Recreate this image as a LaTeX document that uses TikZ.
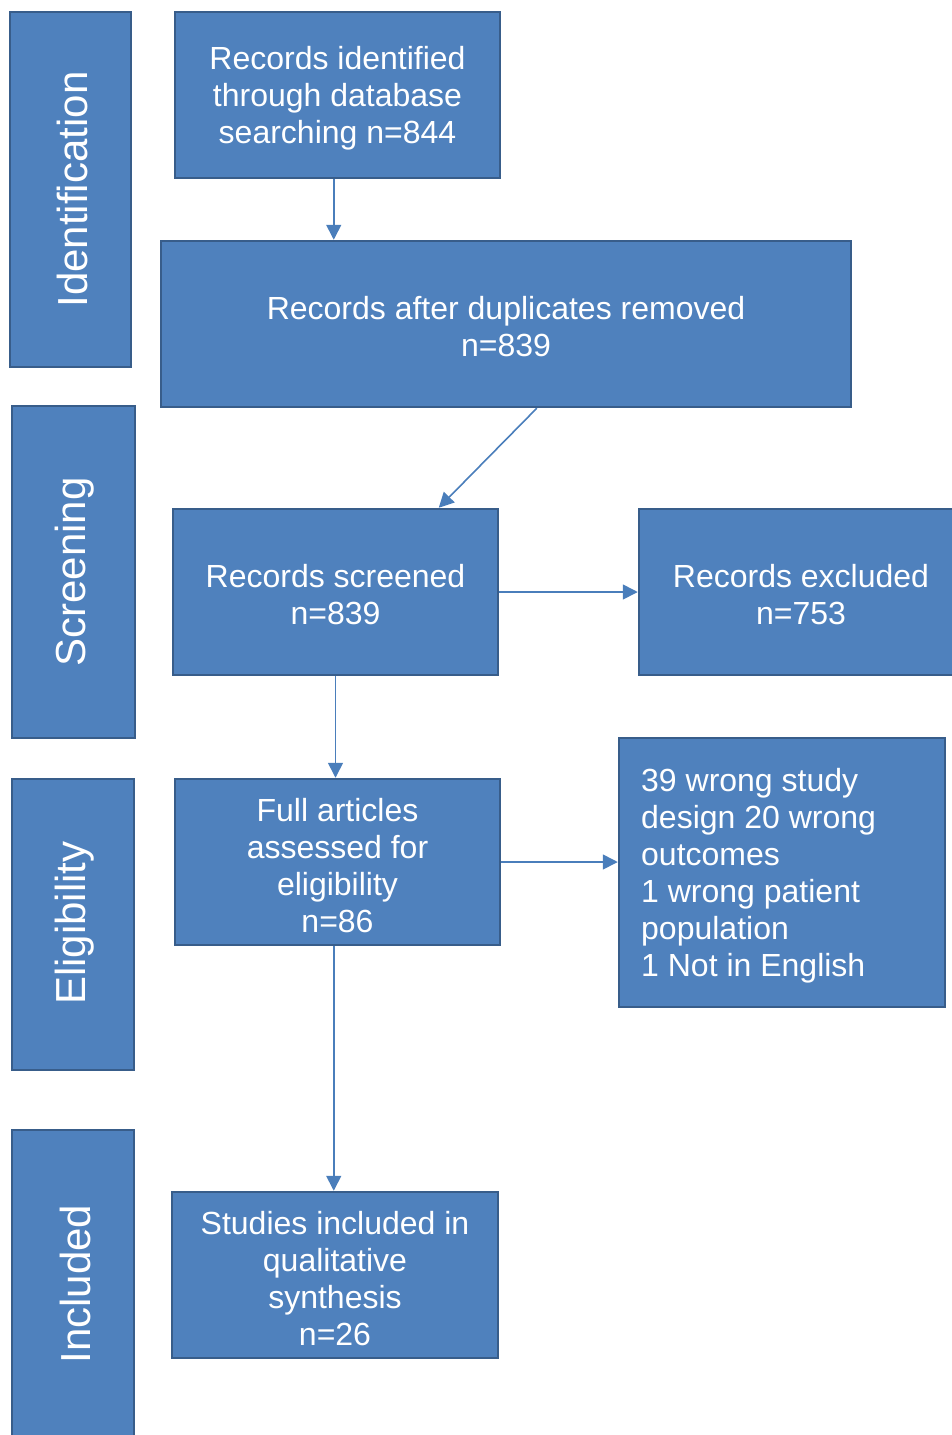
\documentclass[tikz,border=0pt]{standalone}
\usepackage{fontspec}
\setmainfont{Liberation Sans}
\usetikzlibrary{arrows.meta,calc}
\definecolor{boxfill}{HTML}{4F81BD}
\definecolor{boxline}{HTML}{385D8A}
\definecolor{arrcol}{HTML}{4A7EBB}
\begin{document}
\begin{tikzpicture}[x=1pt,y=-1pt,
  box/.style={draw=boxline,fill=boxfill,line width=2.5pt,inner sep=0pt},
  txt/.style={text=white,inner sep=0pt,font=\fontsize{32}{37}\selectfont,align=center},
  sidetxt/.style={text=white,inner sep=0pt,rotate=90,font=\fontsize{42}{48}\selectfont},
  conn/.style={draw=arrcol,line width=1.6pt,-{Triangle[length=15pt,width=15pt]}}]
\useasboundingbox (0,0) rectangle (952,1435);
% phase boxes
\node[box,minimum width=121pt,minimum height=355pt] (pid) at (70.5,189.5) {};
\node[sidetxt] (lid) at (72,189.5) {Identification};
\node[box,minimum width=123pt,minimum height=332pt] (psc) at (73.5,572) {};
\node[sidetxt] (lsc) at (75,572) {Screening};
\node[box,minimum width=122pt,minimum height=291pt] (pel) at (73,924.5) {};
\node[sidetxt] (lel) at (75,923) {Eligibility};
\node[box,minimum width=122pt,minimum height=314pt] (pin) at (73,1287) {};
\node[sidetxt] (lin) at (75,1284) {Included};
% flow boxes
\node[box,minimum width=325pt,minimum height=166pt] (A) at (337.5,95) {};
\node[txt] (At) at (337.5,98) {Records identified\\through database\\searching n=844};
\node[box,minimum width=690pt,minimum height=166pt] (B) at (506,324) {};
\node[txt] (Bt) at (506,327) {Records after duplicates removed\\n=839};
\node[box,minimum width=325pt,minimum height=166pt] (C) at (335.5,592) {};
\node[txt] (Ct) at (335.5,595) {Records screened\\n=839};
\node[box,minimum width=330pt,minimum height=166pt] (D) at (804,592) {};
\node[txt] (Dt) at (801,595) {Records excluded\\n=753};
\node[box,minimum width=325pt,minimum height=166pt] (E) at (337.5,862) {};
\node[txt] (Et) at (337.5,866) {Full articles\\assessed for\\eligibility\\n=86};
\node[box,minimum width=326pt,minimum height=269pt] (F) at (782,872.5) {};
\node[txt,align=left,anchor=west] (Ft) at (641,876) {39 wrong study\\design 20 wrong\\outcomes\\1 wrong patient\\population\\1 Not in English};
\node[box,minimum width=326pt,minimum height=166pt] (G) at (335,1275) {};
\node[txt] (Gt) at (335,1279) {Studies included in\\qualitative\\synthesis\\n=26};
% connectors
\coordinate (a1) at ($(A.south west)+(160,0)$);
\draw[conn] (a1) -- (a1 |- B.north);
\coordinate (b1) at ($(B.south west)+(377,0)$);
\coordinate (c1) at ($(C.north west)+(267,0)$);
\draw[conn] (b1) -- (c1);
\draw[conn] (C.east) -- (D.west);
\draw[conn] (C.south) -- (E.north -| C.south);
\draw[conn] (E.east) -- (F.west |- E.east);
\coordinate (e1) at ($(E.south west)+(160,0)$);
\draw[conn] (e1) -- (e1 |- G.north);
\end{tikzpicture}
\end{document}
